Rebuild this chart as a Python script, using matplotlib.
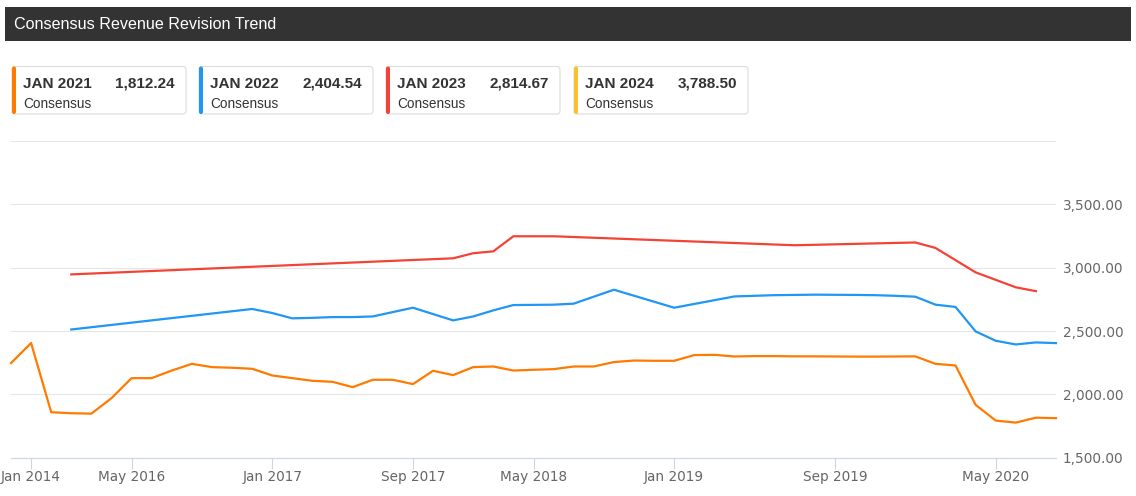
import numpy as np
import matplotlib
matplotlib.use("Agg")
import matplotlib.pyplot as plt
from matplotlib.patches import FancyBboxPatch, Rectangle
from matplotlib.ticker import FuncFormatter

W, H = 1136, 496

# カード（凡例）
card_labels = ["JAN 2021", "JAN 2022", "JAN 2023", "JAN 2024"]
card_values = [1812.24, 2404.54, 2814.67, 3788.50]
card_colors = ["#FF7A00", "#2196F3", "#F44336", "#FBC02D"]

# x軸ラベル（カテゴリ位置）
x_tick_pos = [1, 6, 13, 20, 26, 33, 41, 49]
x_tick_labels = ["Jan 2014", "May 2016", "Jan 2017", "Sep 2017",
                 "May 2018", "Jan 2019", "Sep 2019", "May 2020"]

y_ticks = [1500, 2000, 2500, 3000, 3500, 4000]

N = None
jan2021 = [2247, 2405, 1859, 1851, 1848, 1970, 2128, 2128, 2188, 2241,
           2215, 2210, 2202, 2149, 2128, 2107, 2099, 2057, 2115, 2115,
           2081, 2186, 2152, 2215, 2220, 2188, 2194, 2199, 2220, 2220,
           2255, 2267, 2265, 2265, 2310, 2312, 2299, 2302, 2302, 2300,
           2300, 2299, 2298, 2298, 2299, 2300, 2241, 2228, 1917, 1793,
           1777, 1816, 1812.24]
jan2022 = [N, N, N, 2512, N, N, N, N, N, N,
           N, N, 2674, 2642, 2600, 2604, 2610, 2610, 2615, N,
           2684, N, 2584, 2615, 2663, 2705, N, 2708, 2716, N,
           2826, N, N, 2684, N, N, 2773, 2778, 2783, 2785,
           2787, 2786, 2785, 2783, 2778, 2771, 2708, 2690, 2497, 2423,
           2394, 2410, 2404.54]
jan2023 = [N, N, N, 2947, N, N, N, N, N, N,
           N, N, N, N, N, N, N, N, N, N,
           N, N, 3074, 3114, 3129, 3248, N, 3248, N, N,
           N, N, N, N, N, N, N, N, N, 3177,
           N, N, N, N, N, 3199, 3156, N, 2963, N,
           2845, 2814.67, N]

fig = plt.figure(figsize=(W / 100, H / 100), dpi=100)
fig.patch.set_facecolor("white")

# 背景レイヤー（ピクセル座標）
bg = fig.add_axes([0, 0, 1, 1])
bg.set_xlim(0, W)
bg.set_ylim(H, 0)
bg.axis("off")

bg.add_patch(Rectangle((5, 7), 1126, 34, fc="#333333", ec="none"))
bg.text(14, 24.5, "Consensus Revenue Revision Trend", color="white",
        fontsize=11.6, va="center", ha="left", family="Liberation Sans")

card_x = [12, 199, 386, 574]
for cx, lab, val, col in zip(card_x, card_labels, card_values, card_colors):
    bg.add_patch(FancyBboxPatch((cx, 66.5), 174, 47.5,
                                boxstyle="round,pad=0,rounding_size=3",
                                fc="white", ec="#dcdcdc", lw=0.8))
    bg.add_patch(FancyBboxPatch((cx, 66.5), 4, 47.5,
                                boxstyle="round,pad=0,rounding_size=2",
                                fc=col, ec="none"))
    bg.text(cx + 11, 83.5, lab, fontsize=11, weight="bold", color="#333333",
            va="center", ha="left", family="Liberation Sans")
    bg.text(cx + 163, 83.5, f"{val:,.2f}", fontsize=11, weight="bold",
            color="#333333", va="center", ha="right", family="Liberation Sans")
    bg.text(cx + 11, 103.5, "Consensus", fontsize=9.8, color="#333333",
            va="center", ha="left", family="Liberation Sans")

# チャート本体
ax = fig.add_axes([11 / W, 1 - 457.7 / H, (1056 - 11) / W, (457.7 - 141.0) / H])
ax.set_facecolor("none")

x = np.arange(len(jan2021))
for series, col in zip([jan2021, jan2022, jan2023], card_colors[:3]):
    y = np.array([np.nan if v is None else v for v in series], dtype=float)
    m = ~np.isnan(y)
    ax.plot(x[m], y[m], color=col, lw=1.6, clip_on=False, solid_joinstyle="round")

ax.set_xlim(0, len(jan2021) - 1)
ax.set_ylim(1500, 4000)
ax.set_yticks(y_ticks)
ax.yaxis.set_major_formatter(FuncFormatter(lambda v, p: "" if v >= 4000 else f"{v:,.2f}"))
ax.yaxis.tick_right()
ax.tick_params(axis="y", length=0, pad=5, labelsize=9.8, labelcolor="#666666")
ax.grid(axis="y", color="#e6e6e6", lw=0.8)
ax.set_axisbelow(True)

ax.set_xticks(x_tick_pos)
ax.set_xticklabels(x_tick_labels)
ax.tick_params(axis="x", length=8, width=0.8, color="#ccd6eb", pad=1,
               labelsize=9.8, labelcolor="#666666")

for s in ["top", "left", "right"]:
    ax.spines[s].set_visible(False)
ax.spines["bottom"].set_color("#ccd6eb")
ax.spines["bottom"].set_linewidth(0.8)

fig.savefig("out.png", dpi=100)
